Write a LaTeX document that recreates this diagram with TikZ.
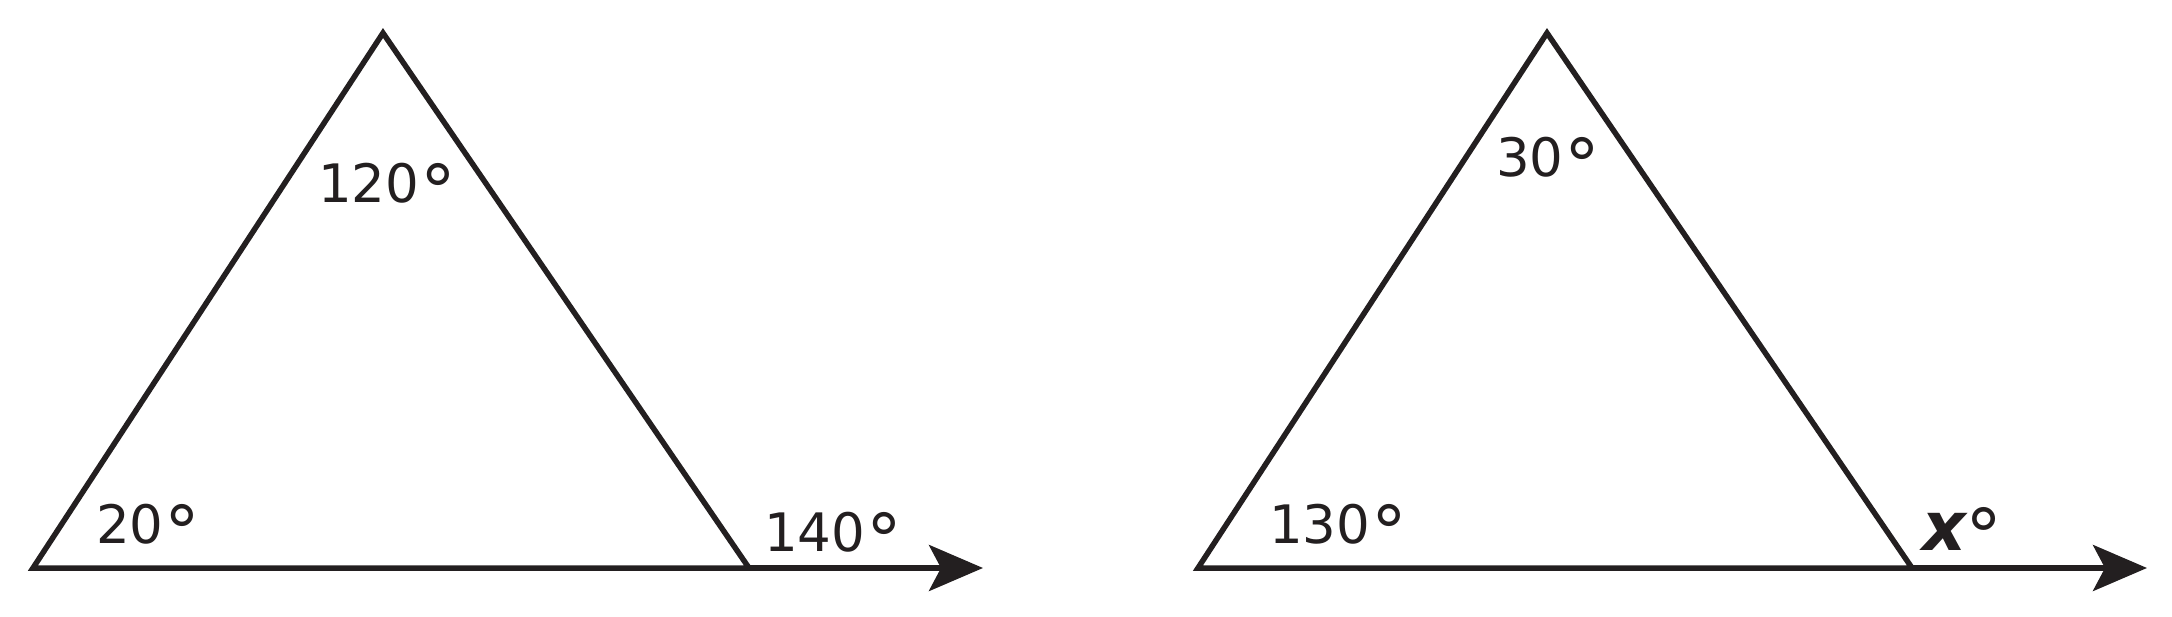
\documentclass[tikz,border=0pt]{standalone}
\usepackage{fontspec}
\setmainfont{DejaVu Sans}
\usetikzlibrary{arrows.meta}
\definecolor{ink}{RGB}{35,31,32}
\newcommand\degsign{\kern1pt\raisebox{-14pt}{\scalebox{1.35}{°}}}
\tikzset{
  edge/.style={draw=ink, line width=5.5pt, line join=miter},
  ray/.style={edge, -{Stealth[length=54pt, width=46pt, inset=12pt]}},
  anglabel/.style={text=ink, inner sep=0pt, anchor=base west, font=\fontsize{53}{60}\selectfont}
}
\begin{document}
\begin{tikzpicture}[x=1pt, y=-1pt]
\useasboundingbox (0,0) rectangle (2172,617);
% left triangle
\coordinate (A) at (33,568);
\coordinate (B) at (383,33);
\coordinate (C) at (749,568);
\coordinate (T) at (983,568);
\draw[edge] (C) -- (B) -- (A) -- (C);
\draw[ray] (C) -- (T);
\node[anglabel] (a1) at (318,203) {120\degsign};
\node[anglabel] (a2) at (96,543) {20\degsign};
\node[anglabel] (a3) at (764,551) {140\degsign};
% right triangle
\coordinate (D) at (1198,568);
\coordinate (E) at (1547,33);
\coordinate (F) at (1912,568);
\coordinate (U) at (2147,568);
\draw[edge] (F) -- (E) -- (D) -- (F);
\draw[ray] (F) -- (U);
\node[anglabel] (b1) at (1496,177) {30\degsign};
\node[anglabel] (b2) at (1269,543) {130\degsign};
\node[anglabel] (b3) at (1922,550) {{\fontsize{68}{70}\selectfont\bfseries\itshape x}\kern-1pt\raisebox{-13pt}{\scalebox{1.4}{°}}};
\end{tikzpicture}
\end{document}
